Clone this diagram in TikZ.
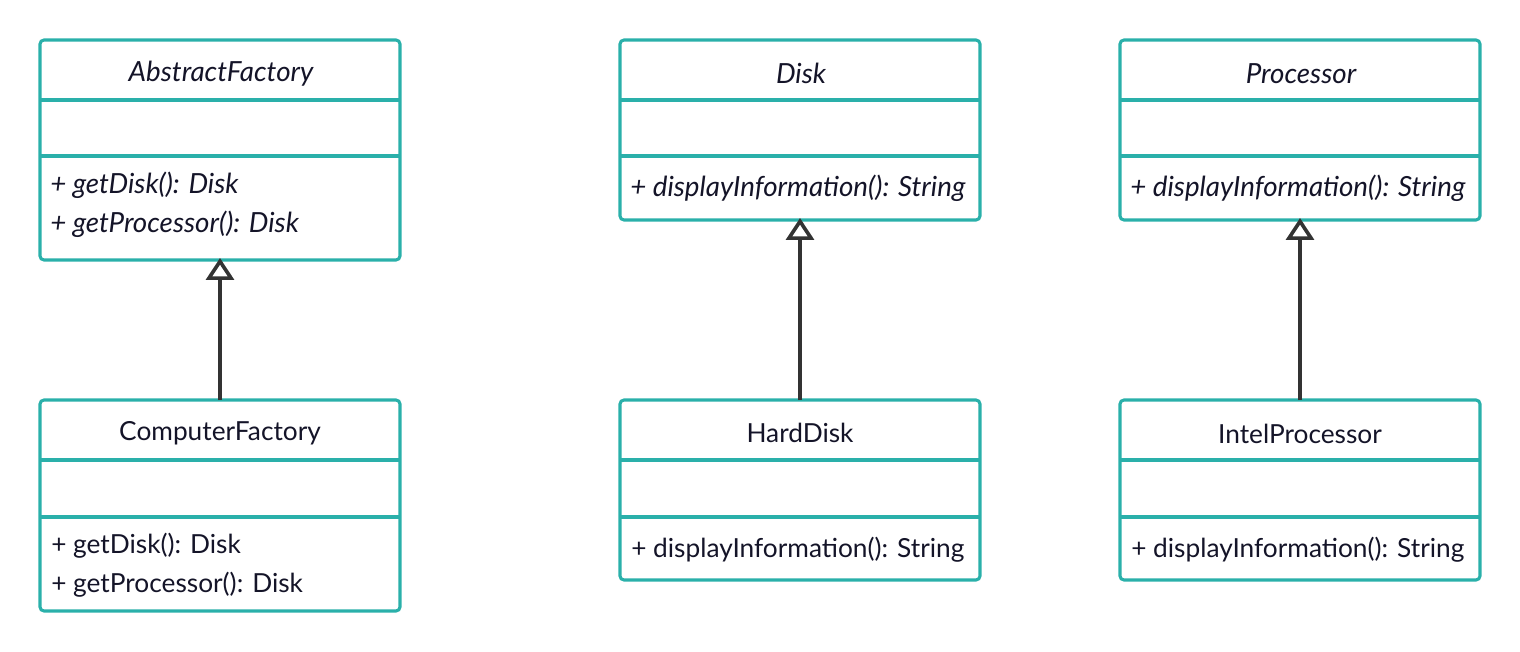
\documentclass[tikz,border=0pt]{standalone}
\usepackage{fontspec}
\setmainfont{Lato}
\usetikzlibrary{arrows.meta}
\definecolor{teal1}{RGB}{42,176,170}
\definecolor{dark1}{RGB}{51,51,51}
\definecolor{txt1}{RGB}{20,20,40}
\tikzset{
  x=0.75pt, y=-0.75pt,
  classbox/.style={draw=teal1, line width=2.3pt, rounded corners=3pt, fill=white, rectangle, minimum width=270pt, inner sep=0pt, outer sep=0pt},
  divider/.style={draw=teal1, line width=2.3pt},
  ttl/.style={font=\fontsize{19.7}{23}\selectfont, text=txt1, anchor=center},
  ttli/.style={font=\fontsize{20.8}{24}\selectfont\itshape, text=txt1, anchor=center},
  mth/.style={font=\fontsize{19.7}{23}\selectfont, text=txt1, anchor=west, inner sep=0pt},
  mthi/.style={font=\fontsize{20.8}{24}\selectfont\itshape, text=txt1, anchor=west, inner sep=0pt},
  inherit/.style={draw=dark1, line width=3pt, shorten >=-1.5pt, -{Triangle[open, length=16.5pt, width=21pt, line width=2.7pt]}}
}
\begin{document}
\begin{tikzpicture}
\useasboundingbox (0,0) rectangle (1520,652);
% AbstractFactory
\node[classbox, minimum height=165pt, anchor=north west] (af) at (40,40) {};
\draw[divider] (40,100) -- (400,100) (40,156) -- (400,156);
\node[ttli] (aft) at (221,73.5) {AbstractFactory};
\node[mthi] (afm1) at (50,185.5) {+ getDisk(): Disk};
\node[mthi] (afm2) at (50,224.5) {+ getProcessor(): Disk};
% ComputerFactory
\node[classbox, minimum height=158.25pt, anchor=north west] (cf) at (40,400) {};
\draw[divider] (40,460) -- (400,460) (40,517) -- (400,517);
\node[ttl] (cft) at (220,433.5) {ComputerFactory};
\node[mth] (cfm1) at (51,545.5) {+ getDisk(): Disk};
\node[mth] (cfm2) at (51,584.5) {+ getProcessor(): Disk};
% Disk
\node[classbox, minimum height=135pt, anchor=north west] (dk) at (620,40) {};
\draw[divider] (620,100) -- (980,100) (620,156) -- (980,156);
\node[ttli] (dkt) at (801,73) {Disk};
\node[mthi] (dkm1) at (630,188.5) {+ displayInformation(): String};
% HardDisk
\node[classbox, minimum height=135pt, anchor=north west] (hd) at (620,400) {};
\draw[divider] (620,460) -- (980,460) (620,517) -- (980,517);
\node[ttl] (hdt) at (800,433) {HardDisk};
\node[mth] (hdm1) at (631,549.5) {+ displayInformation(): String};
% Processor
\node[classbox, minimum height=135pt, anchor=north west] (pr) at (1120,40) {};
\draw[divider] (1120,100) -- (1480,100) (1120,156) -- (1480,156);
\node[ttli] (prt) at (1301,73.5) {Processor};
\node[mthi] (prm1) at (1130,188.5) {+ displayInformation(): String};
% IntelProcessor
\node[classbox, minimum height=135pt, anchor=north west] (ip) at (1120,400) {};
\draw[divider] (1120,460) -- (1480,460) (1120,517) -- (1480,517);
\node[ttl] (ipt) at (1300,433.5) {IntelProcessor};
\node[mth] (ipm1) at (1131,549.5) {+ displayInformation(): String};
% inheritance
\draw[inherit] (cf.north) -- (af.south);
\draw[inherit] (hd.north) -- (dk.south);
\draw[inherit] (ip.north) -- (pr.south);
\end{tikzpicture}
\end{document}
